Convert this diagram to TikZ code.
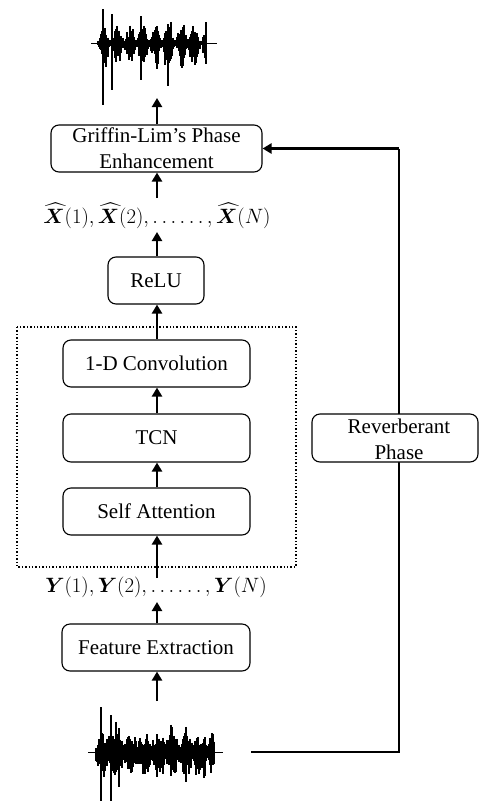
\documentclass[tikz,border=0pt]{standalone}
\usepackage{fontspec}
\usepackage{amsmath,bm}
\setmainfont{Liberation Serif}
\usetikzlibrary{arrows.meta,calc}
\begin{document}
\begin{tikzpicture}[x=1pt,y=-1pt,
  box/.style={draw,line width=1.1pt,rounded corners=8pt,fill=white,align=center,
    font=\fontsize{21}{26}\selectfont,inner sep=0pt},
  lab/.style={font=\fontsize{20.5}{26}\selectfont,inner sep=0pt},
  arr/.style={line width=2.6pt,-{Triangle[width=10pt,length=9pt]}},
  conn/.style={line width=2.2pt},
  wv/.style={line width=1.5pt}]
\useasboundingbox (0,0) rectangle (479,801);

% waveforms
\pgfmathsetseed{11}
\draw[line width=1pt] (91,43) -- (217,43);
\foreach \xx in {98,99,...,206}{
  \pgfmathsetmacro{\env}{0.12+0.88*abs(sin((\xx-98)*14))^1.5}
  \pgfmathsetmacro{\sp}{rnd>0.88 ? 1.6 : 1}
  \pgfmathsetmacro{\u}{\env*\sp*(0.3+0.7*rnd)}
  \pgfmathsetmacro{\d}{\env*\sp*(0.3+0.7*rnd)}
  \draw[wv] (\xx,43-20*\u) -- (\xx,43+28*\d);
}
\draw[wv] (103,9) -- (103,105);
\draw[wv] (112,14) -- (112,90);
\draw[line width=1pt] (88,752) -- (223,752);
\foreach \xx in {96,97,...,214}{
  \pgfmathsetmacro{\env}{0.4+0.6*abs(sin((\xx-96)*13))}
  \pgfmathsetmacro{\sp}{rnd>0.88 ? 1.6 : 1}
  \pgfmathsetmacro{\u}{\env*\sp*(0.35+0.65*rnd)}
  \pgfmathsetmacro{\d}{\env*\sp*(0.35+0.65*rnd)}
  \draw[wv] (\xx,752-20*\u) -- (\xx,752+26*\d);
}
\draw[wv] (101,707) -- (101,801);
\draw[wv] (111,715) -- (111,801);
\coordinate (wtop) at (157,98);
\coordinate (wbot) at (157,701);
\coordinate (wout) at (251,752);

% nodes
\node[box,minimum width=211pt,minimum height=47pt] (grif) at (156.5,148.5)
  {Griffin-Lim’s Phase\\Enhancement};
\node[lab] (xlab) at (157,216)
  {$\widehat{\bm{X}}(1),\widehat{\bm{X}}(2),\ldots\ldots,\widehat{\bm{X}}(N)$};
\node[box,minimum width=96pt,minimum height=47pt] (relu) at (156,280.5) {ReLU};
\draw[line width=1.4pt,dotted] (17,327) rectangle (296,567);
\node[box,minimum width=187pt,minimum height=47pt] (conv) at (156.5,363.5) {1-D Convolution};
\node[box,minimum width=187pt,minimum height=48pt] (tcn) at (156.5,438) {TCN};
\node[box,minimum width=187pt,minimum height=47pt] (sa) at (156.5,511.5) {Self Attention};
\node[lab] (ylab) at (156,587)
  {$\bm{Y}(1),\bm{Y}(2),\ldots\ldots,\bm{Y}(N)$};
\node[box,minimum width=188pt,minimum height=47pt] (fe) at (156,647.5) {Feature Extraction};

% arrows
\draw[arr] (grif.north -| wtop) -- (wtop);
\draw[arr] (157,198) -- (grif.south -| wtop);
\draw[arr] (relu.north -| wtop) -- (157,232);
\draw[arr] (conv.north -| wtop) -- (relu.south -| wtop);
\draw[arr] (tcn.north -| wtop) -- (conv.south -| wtop);
\draw[arr] (sa.north -| wtop) -- (tcn.south -| wtop);
\draw[arr] (157,578) -- (sa.south -| wtop);
\draw[arr] (fe.north -| wtop) -- (157,602);
\draw[arr] (wbot) -- (fe.south -| wtop);

% reverberant phase path
\draw[conn] (wout) -- (399,752) -- (399,148.5);
\draw[arr] (399,148.5) -- (grif.east);
\node[box,minimum width=166pt,minimum height=48pt] (rev) at (395,438) {};
\node[lab,font=\fontsize{21}{26}\selectfont,align=center] (revt) at (399,439) {Reverberant\\Phase};
\end{tikzpicture}
\end{document}
